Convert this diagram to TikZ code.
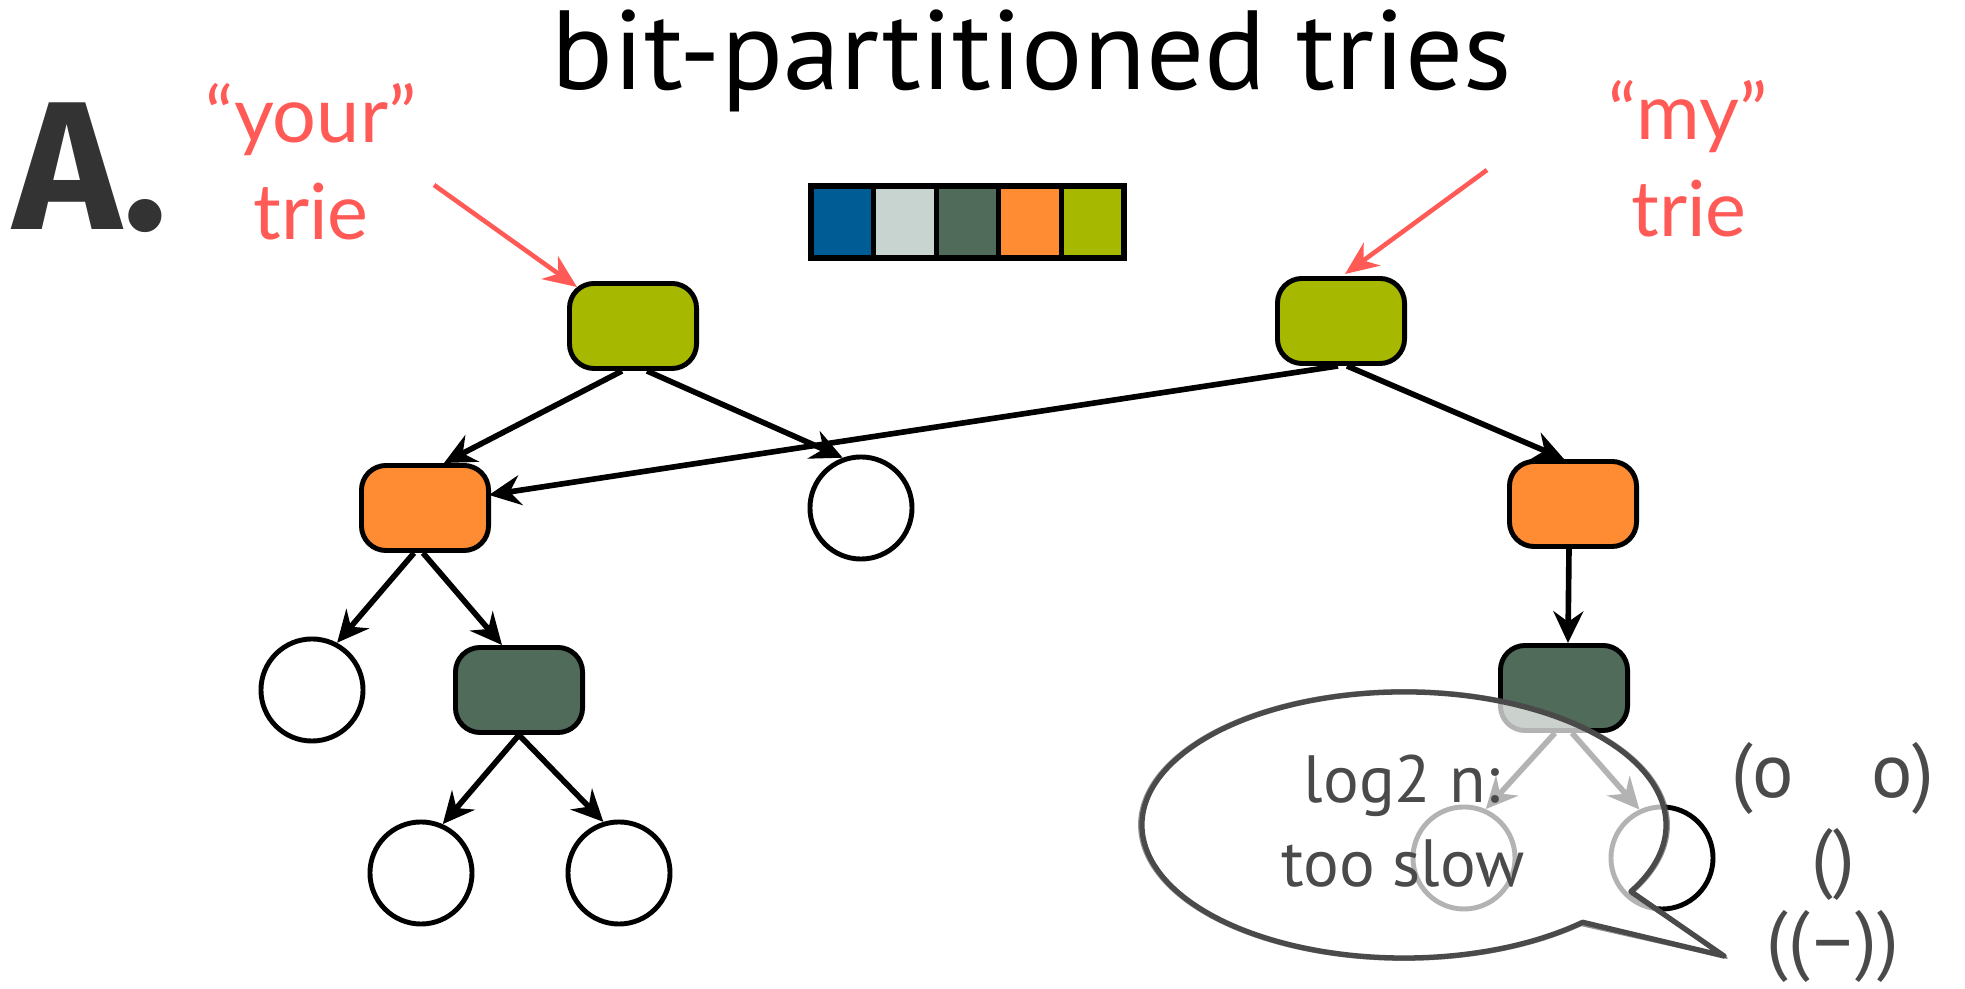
\documentclass[tikz,border=0pt]{standalone}
\usepackage{fontspec}
\usepackage{graphicx}
\setmainfont{PT Sans}
\newfontfamily\labelfont{Lato}
\newfontfamily\handfont{PT Sans}
\newfontfamily\heavyfont{Fira Sans}
\usetikzlibrary{arrows.meta, calc}

\definecolor{lime}{HTML}{A6B800}
\definecolor{tangerine}{HTML}{FF8C33}
\definecolor{moss}{HTML}{516B5A}
\definecolor{mist}{HTML}{C8D4CF}
\definecolor{ocean}{HTML}{005C94}
\definecolor{coral}{HTML}{FF5A55}
\definecolor{chalk}{HTML}{4A4A4A}
\definecolor{inkdark}{HTML}{333333}

\tikzset{
  tnode/.style={draw=black, line width=1.4pt, rounded corners=7pt,
    minimum width=1.27cm, minimum height=0.85cm, inner sep=0pt},
  leaf/.style={circle, draw=black, line width=1.4pt, fill=white,
    minimum size=1.02cm, inner sep=0pt},
  bitcell/.style={draw=black, line width=1.5pt, minimum width=0.626cm,
    minimum height=0.72cm, inner sep=0pt},
  edge/.style={line width=1.6pt, draw=black,
    -{Stealth[length=9pt, width=8.5pt, inset=3pt]}},
  pointer/.style={line width=1.3pt, draw=coral,
    -{Stealth[length=9.5pt, width=8pt, inset=3pt]}},
  redlabel/.style={anchor=base, text=coral, inner sep=0pt,
    font=\labelfont\fontsize{22}{26}\selectfont},
  bubbletext/.style={anchor=base, text=chalk, inner sep=0pt,
    font=\handfont\fontsize{19}{22}\selectfont},
  facetext/.style={anchor=base, text=chalk, inner sep=0pt,
    font=\handfont\fontsize{22}{26}\selectfont},
  bubble/.style={draw=chalk, line width=1.5pt, fill=white, fill opacity=0.7,
    line join=round},
  bubblesketch/.style={draw=chalk, line width=0.5pt, draw opacity=0.6,
    line join=round}
}

\begin{document}
\begin{tikzpicture}[x=0.01cm, y=-0.01cm]
\useasboundingbox (0,0) rectangle (1965,989);

% title and labels
\node[anchor=base, inner sep=0pt, font=\handfont\fontsize{32}{38}\selectfont]
  (title) at (1032,90) {\scalebox{1.02}[1]{bit-partitioned tries}};
\node[anchor=base west, inner sep=0pt, text=inkdark,
  font=\heavyfont\bfseries\fontsize{52}{60}\selectfont] (letter) at (13,230) {A.};
\node[redlabel] (yourq) at (311,143) {“your”};
\node[redlabel] (yourt) at (311,240) {trie};
\node[redlabel] (myq) at (1688,140) {“my”};
\node[redlabel] (myt) at (1689,237) {trie};

% bit cells
\node[bitcell, fill=ocean] (b1) at (842.3,222) {};
\node[bitcell, fill=mist] (b2) at (904.9,222) {};
\node[bitcell, fill=moss] (b3) at (967.5,222) {};
\node[bitcell, fill=tangerine] (b4) at (1030.1,222) {};
\node[bitcell, fill=lime] (b5) at (1092.7,222) {};

% trie nodes
\node[tnode, fill=lime] (yroot) at (633,326) {};
\node[tnode, fill=lime] (mroot) at (1341,321) {};
\node[tnode, fill=tangerine] (o1) at (425,508) {};
\node[leaf] (c1) at (861,508) {};
\node[tnode, fill=tangerine] (o2) at (1573,504) {};
\node[leaf] (c2) at (312,690) {};
\node[tnode, fill=moss] (d1) at (519,690) {};
\node[tnode, fill=moss] (d2) at (1564,688) {};
\node[leaf] (c3) at (421,873) {};
\node[leaf] (c4) at (619,873) {};
\node[leaf] (c5) at (1464,858) {};
\node[leaf] (c6) at (1662,858) {};

% trie edges
\draw[edge] ($(yroot.south)+(-11,0)$) -- ($(o1.north)+(19,0)$);
\draw[edge] ($(yroot.south)+(14,0)$) -- (c1.110);
\draw[edge] ($(mroot.south)+(-3,0)$) -- ($(o1.east)+(-2,-13)$);
\draw[edge] ($(mroot.south)+(6,0)$) -- ($(o2.north)+(-9,0)$);
\draw[edge] ($(o1.south)+(-11,0)$) -- (c2.62);
\draw[edge] ($(o1.south)+(-2,0)$) -- ($(d1.north)+(-17,0)$);
\draw[edge] ($(o2.south)+(-4,0)$) -- ($(d2.north)+(4,0)$);
\draw[edge] (d1.south) -- (c3.66);
\draw[edge] (d1.south) -- (c4.107);
\draw[edge] ($(d2.south)+(-9,0)$) -- (c5.66);
\draw[edge] ($(d2.south)+(8,0)$) -- (c6.115);

% pointers to the two roots
\coordinate (yourtail) at (434,185);
\coordinate (mytail) at (1487,170);
\draw[pointer] (yourtail) -- ($(yroot.north west)+(10,6)$);
\draw[pointer] (mytail) -- ($(mroot.north)+(4,-2)$);

% speech bubble
\coordinate (bubblec) at (1404,825);
\coordinate (tip) at (1724,956);
\draw[bubble] ($(bubblec)+(30:262 and 133)$)
  arc[start angle=30, end angle=-313, x radius=262, y radius=133]
  -- (tip) -- cycle;
\draw[bubblesketch] ($(bubblec)+(31:265 and 135)$)
  arc[start angle=31, end angle=-312, x radius=265, y radius=135]
  -- ($(tip)+(3,2)$) -- cycle;

\node[bubbletext] (slow1) at (1402,803) {log2 n:};
\node[bubbletext] (slow2) at (1403,887) {too slow};

% face
\node[facetext] (eyes) at (1833,798) {(o\hspace{1em}o)};
\node[facetext] (nose) at (1833,884) {()};
\node[facetext] (mouth) at (1833,966) {((–))};
\end{tikzpicture}
\end{document}
